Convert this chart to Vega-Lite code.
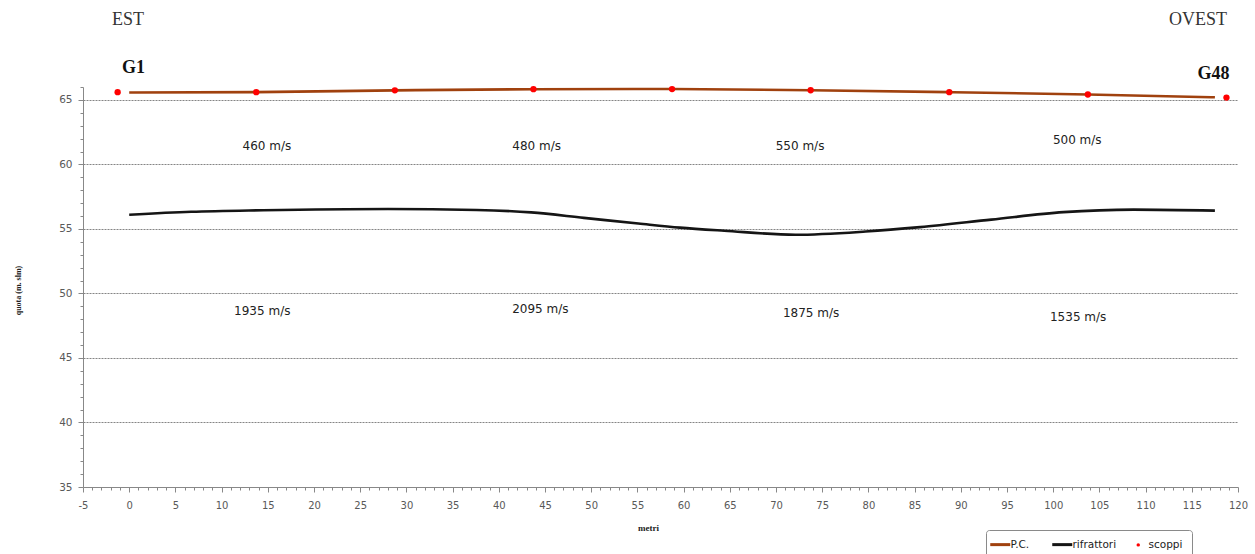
{
  "$schema": "https://vega.github.io/schema/vega-lite/v6.json",
  "autosize": {"type": "none"},
  "width": 1155,
  "height": 400,
  "padding": {"left": 83, "top": 87, "right": 17, "bottom": 67},
  "background": "white",
  "config": {"view": {"stroke": null}},
  "datasets": {
    "profiles": [
      {"x": 0, "y": 65.57, "series": "P.C."},
      {"x": 13.75, "y": 65.6, "series": "P.C."},
      {"x": 28.75, "y": 65.74, "series": "P.C."},
      {"x": 43.75, "y": 65.83, "series": "P.C."},
      {"x": 58.75, "y": 65.84, "series": "P.C."},
      {"x": 73.75, "y": 65.75, "series": "P.C."},
      {"x": 88.75, "y": 65.6, "series": "P.C."},
      {"x": 103.75, "y": 65.42, "series": "P.C."},
      {"x": 117.5, "y": 65.2, "series": "P.C."},
      {"x": 0, "y": 56.1, "series": "rifrattori"},
      {"x": 6.7, "y": 56.33, "series": "rifrattori"},
      {"x": 14.5, "y": 56.45, "series": "rifrattori"},
      {"x": 28, "y": 56.55, "series": "rifrattori"},
      {"x": 37.6, "y": 56.47, "series": "rifrattori"},
      {"x": 43.5, "y": 56.28, "series": "rifrattori"},
      {"x": 49.2, "y": 55.86, "series": "rifrattori"},
      {"x": 55.1, "y": 55.42, "series": "rifrattori"},
      {"x": 59.6, "y": 55.1, "series": "rifrattori"},
      {"x": 64.4, "y": 54.86, "series": "rifrattori"},
      {"x": 72.1, "y": 54.55, "series": "rifrattori"},
      {"x": 79.7, "y": 54.8, "series": "rifrattori"},
      {"x": 85.6, "y": 55.14, "series": "rifrattori"},
      {"x": 93.3, "y": 55.72, "series": "rifrattori"},
      {"x": 101.1, "y": 56.3, "series": "rifrattori"},
      {"x": 108.7, "y": 56.5, "series": "rifrattori"},
      {"x": 117.5, "y": 56.42, "series": "rifrattori"}
    ],
    "shots": [
      {"x": -1.25, "y": 65.6, "series": "scoppi"},
      {"x": 13.75, "y": 65.6, "series": "scoppi"},
      {"x": 28.75, "y": 65.74, "series": "scoppi"},
      {"x": 43.75, "y": 65.83, "series": "scoppi"},
      {"x": 58.75, "y": 65.84, "series": "scoppi"},
      {"x": 73.75, "y": 65.75, "series": "scoppi"},
      {"x": 88.75, "y": 65.6, "series": "scoppi"},
      {"x": 103.75, "y": 65.42, "series": "scoppi"},
      {"x": 118.75, "y": 65.18, "series": "scoppi"}
    ],
    "velocities": [
      {"x": 14.9, "y": 61.43, "label": "460 m/s"},
      {"x": 44.1, "y": 61.43, "label": "480 m/s"},
      {"x": 72.6, "y": 61.43, "label": "550 m/s"},
      {"x": 102.6, "y": 61.89, "label": "500 m/s"},
      {"x": 14.4, "y": 48.64, "label": "1935 m/s"},
      {"x": 44.5, "y": 48.8, "label": "2095 m/s"},
      {"x": 73.8, "y": 48.48, "label": "1875 m/s"},
      {"x": 102.7, "y": 48.17, "label": "1535 m/s"}
    ],
    "sides": [
      {"x": -0.13, "y": 71.19, "label": "EST"},
      {"x": 115.67, "y": 71.19, "label": "OVEST"}
    ],
    "geophones": [
      {"x": 0.47, "y": 67.47, "label": "G1"},
      {"x": 117.35, "y": 66.97, "label": "G48"}
    ]
  },
  "encoding": {
    "x": {
      "field": "x",
      "type": "quantitative",
      "scale": {"domain": [-5, 120], "nice": false, "zero": false},
      "axis": {
        "title": "metri",
        "titleFont": "Liberation Serif",
        "titleFontSize": 9,
        "titleFontWeight": "bold",
        "titleColor": "#222222",
        "titleX": 565,
        "titleY": 40,
        "titleBaseline": "middle",
        "titleAlign": "center",
        "tickCount": 125,
        "labelExpr": "datum.value % 5 === 0 ? replace(datum.label, '\u2212', '-') : ''",
        "labelOverlap": false,
        "labelFlush": false,
        "labelFont": "DejaVu Sans",
        "labelFontSize": 10,
        "labelColor": "#595959",
        "labelPadding": 8,
        "tickSize": {"condition": {"test": "datum.value % 5 === 0", "value": 5}, "value": 3},
        "tickColor": "#888888",
        "domainColor": "#888888",
        "grid": false
      }
    },
    "y": {
      "field": "y",
      "type": "quantitative",
      "scale": {"domain": [35, 66], "nice": false, "zero": false},
      "axis": {
        "title": "quota (m. slm)",
        "titleFont": "Liberation Serif",
        "titleFontSize": 8,
        "titleFontWeight": "bold",
        "titleColor": "#222222",
        "titleX": -65,
        "titleY": 203,
        "titleAngle": 270,
        "titleAlign": "center",
        "titleBaseline": "middle",
        "tickCount": 31,
        "labelExpr": "datum.value % 5 === 0 ? datum.label : ''",
        "labelOverlap": false,
        "labelFont": "DejaVu Sans",
        "labelFontSize": 10.5,
        "labelColor": "#595959",
        "labelPadding": 6,
        "tickSize": {"condition": {"test": "datum.value % 5 === 0", "value": 5}, "value": 3},
        "tickColor": "#888888",
        "domainColor": "#888888",
        "grid": true,
        "gridColor": "#666666",
        "gridDash": [2, 1],
        "gridWidth": 1,
        "gridOpacity": {"condition": {"test": "datum.value % 5 === 0 && datum.value > 35", "value": 0.8}, "value": 0}
      }
    }
  },
  "layer": [
    {
      "data": {"name": "profiles"},
      "mark": {"type": "line", "interpolate": "monotone", "strokeWidth": 2.6},
      "encoding": {
        "detail": {"field": "series"},
        "color": {
          "field": "series",
          "type": "nominal",
          "scale": {"domain": ["P.C.", "rifrattori", "scoppi"], "range": ["#a0410e", "#151515", "#ff0000"]},
          "legend": {
            "title": null,
            "orient": "none",
            "direction": "horizontal",
            "legendX": 903,
            "legendY": 443,
            "padding": 9,
            "strokeColor": "#8a8a8a",
            "cornerRadius": 3,
            "fillColor": "white",
            "columnPadding": 16,
            "labelFont": "DejaVu Sans",
            "labelFontSize": 10.5,
            "labelColor": "#222222",
            "labelOffset": 5,
            "symbolSize": 400,
            "symbolType": "stroke",
            "encode": {
              "symbols": {
                "update": {
                  "shape": {"signal": "datum.value === 'scoppi' ? 'circle' : 'stroke'"},
                  "size": {"signal": "datum.value === 'scoppi' ? 12 : 400"},
                  "strokeWidth": {"signal": "datum.value === 'scoppi' ? 0 : 3"},
                  "stroke": {"signal": "datum.value === 'P.C.' ? '#a0410e' : datum.value === 'rifrattori' ? '#111111' : '#ff0000'"},
                  "fill": {"signal": "datum.value === 'scoppi' ? '#ff0000' : 'transparent'"}
                }
              }
            }
          }
        }
      }
    },
    {
      "data": {"name": "shots"},
      "mark": {"type": "point", "filled": true, "shape": "circle", "size": 40, "opacity": 1},
      "encoding": {
        "color": {"field": "series", "type": "nominal"}
      }
    },
    {
      "data": {"name": "velocities"},
      "mark": {"type": "text", "font": "DejaVu Sans", "fontSize": 12, "color": "#222222", "align": "center", "baseline": "middle"},
      "encoding": {"text": {"field": "label"}}
    },
    {
      "data": {"name": "sides"},
      "mark": {"type": "text", "font": "Liberation Serif", "fontSize": 18, "color": "#333333", "align": "center", "baseline": "middle"},
      "encoding": {"text": {"field": "label"}}
    },
    {
      "data": {"name": "geophones"},
      "mark": {"type": "text", "font": "Liberation Serif", "fontSize": 18, "fontWeight": "bold", "color": "#111111", "align": "center", "baseline": "middle"},
      "encoding": {"text": {"field": "label"}}
    }
  ]
}
